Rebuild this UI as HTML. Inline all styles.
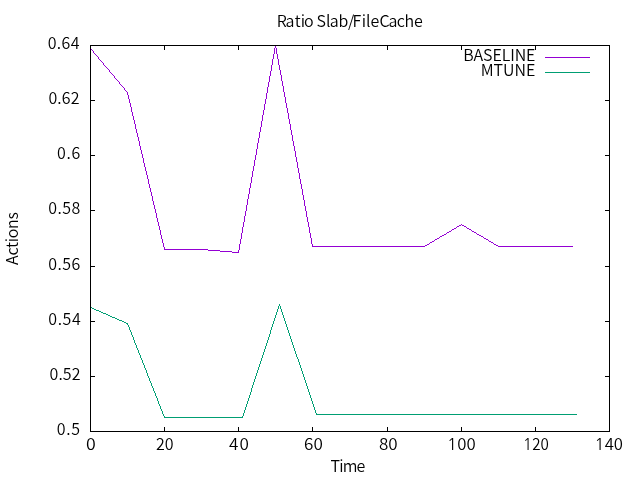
<!DOCTYPE html>
<html lang="en">
<head>
<meta charset="utf-8">
<title>Ratio Slab/FileCache</title>
<style>
html,body{margin:0;padding:0;background:#fff;}
body{width:640px;height:480px;overflow:hidden;}
svg{display:block;}
text{font-family:"Noto Sans CJK JP", "Liberation Sans", sans-serif;font-size:16px;font-weight:350;fill:#000;}
.ax{stroke:#000;stroke-width:1;fill:none;shape-rendering:crispEdges;}
.px{stroke:none;shape-rendering:crispEdges;}
</style>
</head>
<body>
<svg width="640" height="480" viewBox="0 0 640 480">
<rect x="0" y="0" width="640" height="480" fill="#ffffff"/>
<path class="px" fill="#9400d3" d="M90 48h1v1h-1zM91 49h1v1h-1zM92 50h1v1h-1zM93 51h1v2h-1zM94 53h1v1h-1zM95 54h1v1h-1zM96 55h1v1h-1zM97 56h1v1h-1zM98 57h1v2h-1zM99 59h1v1h-1zM100 60h1v1h-1zM101 61h1v1h-1zM102 62h1v1h-1zM103 63h1v2h-1zM104 65h1v1h-1zM105 66h1v1h-1zM106 67h1v1h-1zM107 68h1v1h-1zM108 69h1v1h-1zM109 70h1v2h-1zM110 72h1v1h-1zM111 73h1v1h-1zM112 74h1v1h-1zM113 75h1v1h-1zM114 76h1v2h-1zM115 78h1v1h-1zM116 79h1v1h-1zM117 80h1v1h-1zM118 81h1v1h-1zM119 82h1v2h-1zM120 84h1v1h-1zM121 85h1v1h-1zM122 86h1v1h-1zM123 87h1v1h-1zM124 88h1v2h-1zM125 90h1v1h-1zM126 91h1v1h-1zM127 92h1v3h-1zM128 95h1v4h-1zM129 99h1v4h-1zM130 103h1v4h-1zM131 107h1v5h-1zM132 112h1v4h-1zM133 116h1v4h-1zM134 120h1v4h-1zM135 124h1v5h-1zM136 129h1v4h-1zM137 133h1v4h-1zM138 137h1v4h-1zM139 141h1v5h-1zM140 146h1v4h-1zM141 150h1v4h-1zM142 154h1v4h-1zM143 158h1v5h-1zM144 163h1v4h-1zM145 167h1v4h-1zM146 171h1v4h-1zM147 175h1v4h-1zM148 179h1v5h-1zM149 184h1v4h-1zM150 188h1v4h-1zM151 192h1v4h-1zM152 196h1v5h-1zM153 201h1v4h-1zM154 205h1v4h-1zM155 209h1v4h-1zM156 213h1v5h-1zM157 218h1v4h-1zM158 222h1v4h-1zM159 226h1v4h-1zM160 230h1v5h-1zM161 235h1v4h-1zM162 239h1v4h-1zM163 243h1v4h-1zM164 247h1v2h-1zM164 249h44v1h-44zM208 250h12v1h-12zM220 251h12v1h-12zM232 252h7v1h-7zM238 250h1v2h-1zM239 244h1v6h-1zM240 239h1v5h-1zM241 233h1v6h-1zM242 227h1v6h-1zM243 222h1v5h-1zM244 216h1v6h-1zM245 211h1v5h-1zM246 205h1v6h-1zM247 199h1v6h-1zM248 194h1v5h-1zM249 188h1v6h-1zM250 183h1v5h-1zM251 177h1v6h-1zM252 171h1v6h-1zM253 166h1v5h-1zM254 160h1v6h-1zM255 155h1v5h-1zM256 149h1v6h-1zM257 143h1v6h-1zM258 138h1v5h-1zM259 132h1v6h-1zM260 127h1v5h-1zM261 121h1v6h-1zM262 115h1v6h-1zM263 110h1v5h-1zM264 104h1v6h-1zM265 99h1v5h-1zM266 93h1v6h-1zM267 87h1v6h-1zM268 82h1v5h-1zM269 76h1v6h-1zM270 71h1v5h-1zM271 65h1v6h-1zM272 59h1v6h-1zM273 54h1v5h-1zM274 48h1v6h-1zM275 45h1v3h-1zM276 48h1v6h-1zM277 54h1v5h-1zM278 59h1v6h-1zM279 65h1v5h-1zM280 70h1v5h-1zM281 75h1v6h-1zM282 81h1v5h-1zM283 86h1v6h-1zM284 92h1v5h-1zM285 97h1v6h-1zM286 103h1v5h-1zM287 108h1v5h-1zM288 113h1v6h-1zM289 119h1v5h-1zM290 124h1v6h-1zM291 130h1v5h-1zM292 135h1v6h-1zM293 141h1v5h-1zM294 146h1v5h-1zM295 151h1v6h-1zM296 157h1v5h-1zM297 162h1v6h-1zM298 168h1v5h-1zM299 173h1v6h-1zM300 179h1v5h-1zM301 184h1v5h-1zM302 189h1v6h-1zM303 195h1v5h-1zM304 200h1v6h-1zM305 206h1v5h-1zM306 211h1v6h-1zM307 217h1v5h-1zM308 222h1v5h-1zM309 227h1v6h-1zM310 233h1v5h-1zM311 238h1v6h-1zM312 244h1v2h-1zM312 246h113v1h-113zM425 245h2v1h-2zM427 244h2v1h-2zM429 243h1v1h-1zM430 242h2v1h-2zM432 241h2v1h-2zM434 240h1v1h-1zM435 239h2v1h-2zM437 238h2v1h-2zM439 237h1v1h-1zM440 236h2v1h-2zM442 235h2v1h-2zM444 234h2v1h-2zM446 233h1v1h-1zM447 232h2v1h-2zM449 231h2v1h-2zM451 230h1v1h-1zM452 229h2v1h-2zM454 228h2v1h-2zM456 227h1v1h-1zM457 226h2v1h-2zM459 225h2v1h-2zM461 224h1v1h-1zM462 225h2v1h-2zM464 226h2v1h-2zM466 227h1v1h-1zM467 228h2v1h-2zM469 229h2v1h-2zM471 230h1v1h-1zM472 231h2v1h-2zM474 232h2v1h-2zM476 233h1v1h-1zM477 234h2v1h-2zM479 235h2v1h-2zM481 236h2v1h-2zM483 237h1v1h-1zM484 238h2v1h-2zM486 239h2v1h-2zM488 240h1v1h-1zM489 241h2v1h-2zM491 242h2v1h-2zM493 243h1v1h-1zM494 244h2v1h-2zM496 245h2v1h-2zM498 246h75v1h-75z"/>
<path class="px" fill="#009e73" d="M90 307h2v1h-2zM92 308h2v1h-2zM94 309h2v1h-2zM96 310h3v1h-3zM99 311h2v1h-2zM101 312h2v1h-2zM103 313h3v1h-3zM106 314h2v1h-2zM108 315h2v1h-2zM110 316h2v1h-2zM112 317h3v1h-3zM115 318h2v1h-2zM117 319h2v1h-2zM119 320h3v1h-3zM122 321h2v1h-2zM124 322h2v1h-2zM126 323h2v1h-2zM127 324h1v1h-1zM128 325h1v2h-1zM129 327h1v3h-1zM130 330h1v2h-1zM131 332h1v3h-1zM132 335h1v2h-1zM133 337h1v3h-1zM134 340h1v3h-1zM135 343h1v2h-1zM136 345h1v3h-1zM137 348h1v2h-1zM138 350h1v3h-1zM139 353h1v2h-1zM140 355h1v3h-1zM141 358h1v2h-1zM142 360h1v3h-1zM143 363h1v2h-1zM144 365h1v3h-1zM145 368h1v2h-1zM146 370h1v3h-1zM147 373h1v3h-1zM148 376h1v2h-1zM149 378h1v3h-1zM150 381h1v2h-1zM151 383h1v3h-1zM152 386h1v2h-1zM153 388h1v3h-1zM154 391h1v2h-1zM155 393h1v3h-1zM156 396h1v2h-1zM157 398h1v3h-1zM158 401h1v3h-1zM159 404h1v2h-1zM160 406h1v3h-1zM161 409h1v2h-1zM162 411h1v3h-1zM163 414h1v2h-1zM164 416h1v1h-1zM164 417h79v1h-79zM242 416h1v1h-1zM243 413h1v3h-1zM244 410h1v3h-1zM245 407h1v3h-1zM246 404h1v3h-1zM247 401h1v3h-1zM248 398h1v3h-1zM249 395h1v3h-1zM250 392h1v3h-1zM251 388h1v4h-1zM252 385h1v3h-1zM253 382h1v3h-1zM254 379h1v3h-1zM255 376h1v3h-1zM256 373h1v3h-1zM257 370h1v3h-1zM258 367h1v3h-1zM259 364h1v3h-1zM260 361h1v3h-1zM261 358h1v3h-1zM262 355h1v3h-1zM263 352h1v3h-1zM264 349h1v3h-1zM265 346h1v3h-1zM266 343h1v3h-1zM267 340h1v3h-1zM268 337h1v3h-1zM269 334h1v3h-1zM270 330h1v4h-1zM271 327h1v3h-1zM272 324h1v3h-1zM273 321h1v3h-1zM274 318h1v3h-1zM275 315h1v3h-1zM276 312h1v3h-1zM277 309h1v3h-1zM278 306h1v3h-1zM279 304h1v2h-1zM280 306h1v3h-1zM281 309h1v3h-1zM282 312h1v3h-1zM283 315h1v3h-1zM284 318h1v3h-1zM285 321h1v3h-1zM286 324h1v3h-1zM287 327h1v3h-1zM288 330h1v3h-1zM289 333h1v3h-1zM290 336h1v3h-1zM291 339h1v3h-1zM292 342h1v3h-1zM293 345h1v3h-1zM294 348h1v3h-1zM295 351h1v3h-1zM296 354h1v3h-1zM297 357h1v2h-1zM298 359h1v3h-1zM299 362h1v3h-1zM300 365h1v3h-1zM301 368h1v3h-1zM302 371h1v3h-1zM303 374h1v3h-1zM304 377h1v3h-1zM305 380h1v3h-1zM306 383h1v3h-1zM307 386h1v3h-1zM308 389h1v3h-1zM309 392h1v3h-1zM310 395h1v3h-1zM311 398h1v3h-1zM312 401h1v3h-1zM313 404h1v3h-1zM314 407h1v3h-1zM315 410h1v3h-1zM316 413h1v1h-1zM316 414h261v1h-261z"/>
<path class="px" fill="#9400d3" d="M545 57h45v1h-45z"/>
<path class="px" fill="#009e73" d="M545 72h45v1h-45z"/>
<path class="ax" d="M90.5 431.5h4.5M609.5 431.5h-4.5M90.5 376.5h4.5M609.5 376.5h-4.5M90.5 321.5h4.5M609.5 321.5h-4.5M90.5 266.5h4.5M609.5 266.5h-4.5M90.5 210.5h4.5M609.5 210.5h-4.5M90.5 155.5h4.5M609.5 155.5h-4.5M90.5 100.5h4.5M609.5 100.5h-4.5M90.5 45.5h4.5M609.5 45.5h-4.5M90.5 431.5v-4.5M90.5 45.5v4.5M164.5 431.5v-4.5M164.5 45.5v4.5M238.5 431.5v-4.5M238.5 45.5v4.5M312.5 431.5v-4.5M312.5 45.5v4.5M387.5 431.5v-4.5M387.5 45.5v4.5M461.5 431.5v-4.5M461.5 45.5v4.5M535.5 431.5v-4.5M535.5 45.5v4.5M609.5 431.5v-4.5M609.5 45.5v4.5"/>
<rect class="ax" x="90.5" y="45.5" width="519" height="386"/>
<text x="80.65" y="435.0" text-anchor="end" style="letter-spacing:0.65px">0.5</text>
<text x="80.77" y="380.0" text-anchor="end" style="letter-spacing:0.17px">0.52</text>
<text x="81.27" y="325.0" text-anchor="end" style="letter-spacing:0.57px">0.54</text>
<text x="80.87" y="270.0" text-anchor="end" style="letter-spacing:0.47px">0.56</text>
<text x="80.87" y="214.0" text-anchor="end" style="letter-spacing:0.47px">0.58</text>
<text x="81.20" y="159.0" text-anchor="end" style="letter-spacing:0.80px">0.6</text>
<text x="79.63" y="104.0" text-anchor="end" style="letter-spacing:0.13px">0.62</text>
<text x="79.90" y="49.0" text-anchor="end" style="letter-spacing:0.40px">0.64</text>
<text transform="translate(90.95,450) scale(1.110,1)" text-anchor="middle">0</text>
<text x="164.85" y="450" text-anchor="middle">20</text>
<text transform="translate(239.48,450) scale(1.070,1)" text-anchor="middle" style="letter-spacing:1.00px">40</text>
<text transform="translate(313.45,450) scale(1.070,1)" text-anchor="middle">60</text>
<text transform="translate(388.35,450) scale(1.065,1)" text-anchor="middle">80</text>
<text transform="translate(461.40,450) scale(1.050,1)" text-anchor="middle"><tspan style="font-family:NanumGothic,'Liberation Sans',sans-serif;font-weight:400">1</tspan>00</text>
<text transform="translate(536.00,450) scale(0.950,1)" text-anchor="middle"><tspan style="font-family:NanumGothic,'Liberation Sans',sans-serif;font-weight:400">1</tspan>20</text>
<text transform="translate(608.80,450) scale(1.045,1)" text-anchor="middle"><tspan style="font-family:NanumGothic,'Liberation Sans',sans-serif;font-weight:400">1</tspan>40</text>
<text x="276.7 285.6 294.8 300.8 303.9 313 316.6 326.1 329.8 338.6 348 352.5 361.8 366 370.6 379.5 388.6 396.7 404.5 414" y="27">Ratio Slab/FileCache</text>
<text x="347.5" y="472.3" text-anchor="middle" style="letter-spacing:-0.8px">Time</text>
<text transform="translate(18.2,238.7) rotate(-90)" text-anchor="middle" style="letter-spacing:-0.3px">Actions</text>
<text x="535.3" y="60.8" text-anchor="end" style="letter-spacing:-0.1px">BASELINE</text>
<text x="535.3" y="75.8" text-anchor="end">MTUNE</text>
</svg>
</body>
</html>
